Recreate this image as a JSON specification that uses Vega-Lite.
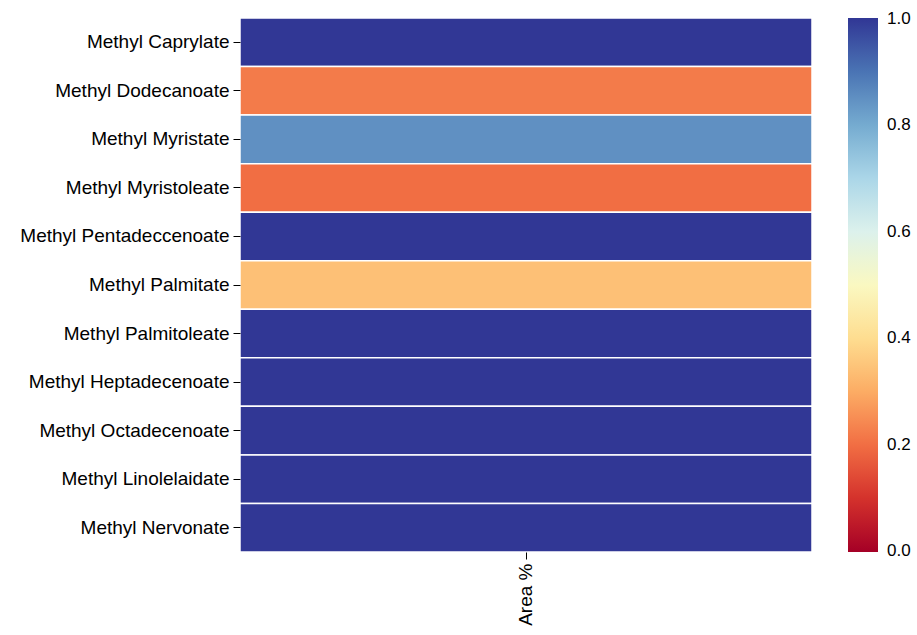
{
  "$schema": "https://vega.github.io/schema/vega-lite/v6.json",
  "width": 572,
  "height": 534,
  "autosize": {"type": "none"},
  "padding": {"left": 240, "top": 18, "right": 105, "bottom": 83},
  "background": "white",
  "config": {"view": {"stroke": null}, "font": "Liberation Sans"},
  "data": {
    "values": [
      {"compound": "Methyl Caprylate", "col": "Area %", "value": 1.0},
      {"compound": "Methyl Dodecanoate", "col": "Area %", "value": 0.22},
      {"compound": "Methyl Myristate", "col": "Area %", "value": 0.85},
      {"compound": "Methyl Myristoleate", "col": "Area %", "value": 0.2},
      {"compound": "Methyl Pentadeccenoate", "col": "Area %", "value": 1.0},
      {"compound": "Methyl Palmitate", "col": "Area %", "value": 0.34},
      {"compound": "Methyl Palmitoleate", "col": "Area %", "value": 1.0},
      {"compound": "Methyl Heptadecenoate", "col": "Area %", "value": 1.0},
      {"compound": "Methyl Octadecenoate", "col": "Area %", "value": 1.0},
      {"compound": "Methyl Linolelaidate", "col": "Area %", "value": 1.0},
      {"compound": "Methyl Nervonate", "col": "Area %", "value": 1.0}
    ]
  },
  "mark": {"type": "rect", "stroke": "white", "strokeWidth": 1.5},
  "encoding": {
    "x": {
      "field": "col", "type": "nominal", "title": null,
      "axis": {"labelAngle": -90, "labelFontSize": 19, "labelColor": "black", "tickColor": "black", "tickSize": 7, "domain": false, "labelPadding": 4}
    },
    "y": {
      "field": "compound", "type": "nominal", "sort": null, "title": null,
      "axis": {"labelFontSize": 19, "labelColor": "black", "tickColor": "black", "tickSize": 7, "domain": false, "labelPadding": 4, "labelLimit": 300}
    },
    "color": {
      "field": "value", "type": "quantitative",
      "scale": {"scheme": "redyellowblue", "domain": [-0.001, 1.001]},
      "legend": {
        "title": null, "orient": "none", "legendX": 608, "legendY": 0,
        "direction": "vertical", "gradientLength": 534, "gradientThickness": 30,
        "values": [0, 0.2, 0.4, 0.6, 0.8, 1.0], "format": ".1f",
        "labelFontSize": 17, "labelColor": "black", "labelOffset": 9,
        "labelBaseline": "middle", "labelOverlap": false,
        "gradientStrokeWidth": 0
      }
    }
  }
}
